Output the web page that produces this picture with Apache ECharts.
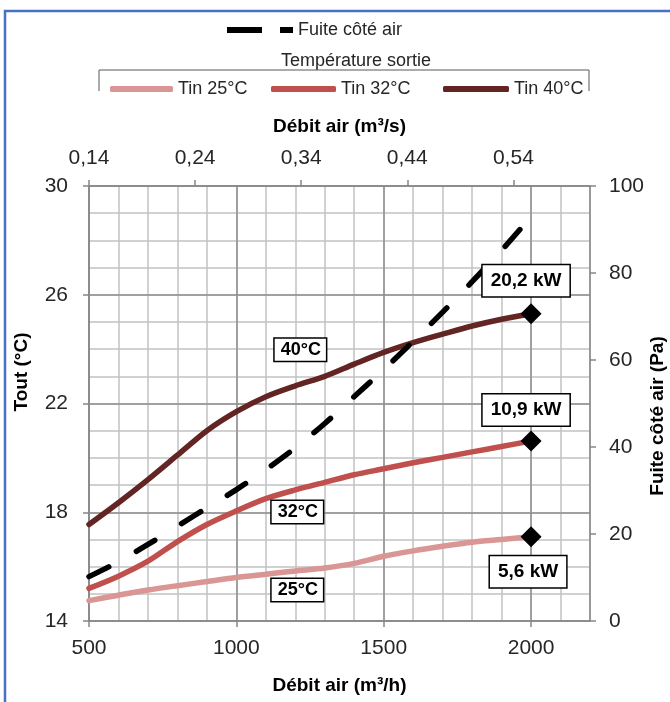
<!DOCTYPE html>
<html>
<head>
<meta charset="utf-8">
<script src="https://cdn.jsdelivr.net/npm/echarts@6/dist/echarts.min.js"></script>
<style>
html,body{margin:0;padding:0;background:#fff;overflow:hidden;}
#chart{width:670px;height:702px;}
</style>
</head>
<body>
<div id="chart"></div>
<script>
// ---- data ----
const flowRate = [500, 600, 700, 800, 900, 1000, 1100, 1200, 1300, 1400, 1500, 1600, 1700, 1800, 1900, 2000];
const tout25 = [14.75, 14.95, 15.14, 15.3, 15.45, 15.6, 15.72, 15.84, 15.95, 16.12, 16.38, 16.58, 16.75, 16.9, 17.0, 17.1];
const tout32 = [15.2, 15.65, 16.2, 16.92, 17.55, 18.05, 18.5, 18.82, 19.1, 19.38, 19.6, 19.82, 20.02, 20.22, 20.42, 20.62];
const tout40 = [17.55, 18.35, 19.2, 20.1, 21.0, 21.7, 22.25, 22.65, 23.0, 23.45, 23.88, 24.24, 24.55, 24.85, 25.1, 25.3];
const fuiteFlow = [500, 600, 700, 800, 900, 1000, 1100, 1200, 1300, 1400, 1500, 1600, 1700, 1800, 1900, 1970];
const fuitePa = [10.2, 13.6, 17.6, 21.8, 26.0, 30.2, 34.8, 39.8, 45.4, 51.6, 57.8, 64.3, 71.0, 78.0, 85.2, 90.6];
const seriesNames = ['Tin 25°C', 'Tin 32°C', 'Tin 40°C'];
const curveLabels = ['25°C', '32°C', '40°C'];
const powerLabels = ['5,6 kW', '10,9 kW', '20,2 kW'];
const fuiteName = 'Fuite côté air';
const legendTitle = 'Température sortie';
const bottomTicks = [500, 1000, 1500, 2000];
const topTicks = [0.14, 0.24, 0.34, 0.44, 0.54];
const leftTicks = [14, 18, 22, 26, 30];
const rightTicks = [0, 20, 40, 60, 80, 100];

// ---- styles ----
const colors = ['#d99694', '#c0504d', '#632523'];
const FONT = '"Liberation Sans", Arial, sans-serif';
const curveLabelOffsets = [[2, 19], [2, 22], [5, -36]];
const powerLabelOffsets = [[-3, 35], [-5, -31], [-5, -33]];
const allT = [tout25, tout32, tout40];
const labelIdx = 7;

const boxLabel = (size, pad) => ({
  show: true, color: '#000', fontFamily: FONT, fontWeight: 'bold', fontSize: size, lineHeight: size,
  backgroundColor: '#fff', borderColor: '#000', borderWidth: 1.5,
  padding: pad
});

const lineSeries = allT.map((arr, i) => ({
  name: seriesNames[i], type: 'line', xAxisIndex: 0, yAxisIndex: 0,
  data: flowRate.map((x, k) => [x, arr[k]]),
  smooth: 0.3, showSymbol: false, symbol: 'none',
  lineStyle: { color: colors[i], width: 5.5, cap: 'round' },
  itemStyle: { color: colors[i] },
  z: 3 + i,
  markPoint: {
    symbol: 'circle', symbolSize: 1, itemStyle: { color: 'rgba(0,0,0,0)' },
    silent: true,
    data: [{
      coord: [flowRate[labelIdx], arr[labelIdx]],
      value: curveLabels[i],
      label: Object.assign(boxLabel(18, [3, 5, 1, 6]), { position: 'inside', offset: curveLabelOffsets[i], formatter: curveLabels[i] })
    }]
  }
}));

const fuiteSeries = {
  name: fuiteName, type: 'line', xAxisIndex: 0, yAxisIndex: 1,
  data: fuiteFlow.map((x, k) => [x, fuitePa[k]]),
  smooth: 0.3, showSymbol: false, symbol: 'none',
  lineStyle: { color: '#000', width: 5.5, type: [22, 31.5], cap: 'round' },
  itemStyle: { color: '#000' },
  z: 6
};

const endSeries = {
  name: 'end', type: 'scatter', xAxisIndex: 0, yAxisIndex: 0,
  symbol: 'diamond', symbolSize: 21,
  itemStyle: { color: '#000', opacity: 1 },
  z: 10,
  data: allT.map((arr, i) => ({
    value: [flowRate[flowRate.length - 1], arr[arr.length - 1]],
    label: Object.assign(boxLabel(19, [7, 8, 5, 8]), { position: 'inside', offset: powerLabelOffsets[i], formatter: powerLabels[i] })
  }))
};

const axisLabelStyle = { color: '#262626', fontFamily: FONT, fontSize: 21 };
const axisLine = { show: true, lineStyle: { color: '#868686', width: 1.5 } };
const axisNameStyle = { color: '#000', fontFamily: FONT, fontWeight: 'bold', fontSize: 19 };
const tickStyle = { color: '#868686', width: 1.5 };
const majorGrid = { show: true, lineStyle: { color: '#8f8f8f', width: 1.5 } };
const minorGrid = { show: true, lineStyle: { color: '#c2c2c2', width: 1.5 } };
const hidden = { show: false };
const legendText = { fontFamily: FONT, fontSize: 18, color: '#262626' };

const option = {
  animation: false,
  backgroundColor: '#fff',
  grid: { left: 89, right: 80, top: 186, bottom: 81, containLabel: false, outerBoundsMode: 'none' },
  legend: [
    { data: [fuiteName], left: 227, top: 21, padding: 0, itemWidth: 66, itemHeight: 6, itemGap: 4,
      icon: 'path://M0,0H35V6H0Z M53,0H66V6H53Z', textStyle: legendText, selectedMode: false },
    { data: [seriesNames[0]], left: 110, top: 80, padding: 0, itemWidth: 63, itemHeight: 6, icon: 'roundRect',
      textStyle: legendText, selectedMode: false },
    { data: [seriesNames[1]], left: 271, top: 80, padding: 0, itemWidth: 65, itemHeight: 6, icon: 'roundRect',
      textStyle: legendText, selectedMode: false },
    { data: [seriesNames[2]], left: 443, top: 80, padding: 0, itemWidth: 66, itemHeight: 6, icon: 'roundRect',
      textStyle: legendText, selectedMode: false }
  ],
  graphic: [
    { type: 'rect', shape: { x: 5, y: 11, width: 700, height: 720 }, style: { fill: 'none', stroke: '#4472c4', lineWidth: 2.5 }, z: 100 },
    { type: 'text', x: 356, y: 61, style: { text: legendTitle, font: '18px ' + FONT, fill: '#262626', align: 'center', verticalAlign: 'middle' } },
    { type: 'polyline', shape: { points: [[99, 91], [99, 70], [589, 70], [589, 91]] }, style: { stroke: '#595959', lineWidth: 1, fill: 'none' } },
    { type: 'text', x: 22, y: 372, rotation: Math.PI / 2, style: { text: 'Tout (°C)', font: 'bold 19px ' + FONT, fill: '#000', align: 'center', verticalAlign: 'middle' } },
    { type: 'text', x: 658, y: 416, rotation: Math.PI / 2, style: { text: 'Fuite côté air (Pa)', font: 'bold 19px ' + FONT, fill: '#000', align: 'center', verticalAlign: 'middle' } }
  ],
  xAxis: [
    { type: 'value', position: 'bottom', min: 500, max: 2200, interval: 100, z: 2,
      name: 'Débit air (m³/h)', nameLocation: 'middle', nameGap: 55, nameTextStyle: axisNameStyle,
      axisLine: axisLine,
      axisTick: { show: true, length: 6, lineStyle: tickStyle, customValues: bottomTicks },
      axisLabel: Object.assign({ margin: 17, customValues: bottomTicks, formatter: v => String(v) }, axisLabelStyle),
      splitLine: majorGrid
    },
    { type: 'value', position: 'top', min: topTicks[0], max: topTicks[0] + 1700 / 3600, z: 2,
      name: 'Débit air (m³/s)', nameLocation: 'middle', nameGap: 50, nameTextStyle: axisNameStyle,
      axisLine: axisLine,
      axisTick: { show: true, length: 6, lineStyle: tickStyle, customValues: topTicks },
      axisLabel: Object.assign({ margin: 17, customValues: topTicks, formatter: v => v.toFixed(2).replace('.', ',') }, axisLabelStyle),
      splitLine: hidden
    },
    { type: 'value', position: 'bottom', min: 500, max: 2200, interval: 100, z: 1,
      axisLine: hidden, axisTick: hidden, axisLabel: hidden, splitLine: minorGrid }
  ],
  yAxis: [
    { type: 'value', position: 'left', min: 14, max: 30, interval: 1, z: 2,
      axisLine: axisLine,
      axisTick: { show: true, length: 6, lineStyle: tickStyle, customValues: leftTicks },
      axisLabel: Object.assign({ margin: 21, customValues: leftTicks }, axisLabelStyle),
      splitLine: majorGrid
    },
    { type: 'value', position: 'right', min: 0, max: 100, interval: 20, z: 2,
      axisLine: axisLine,
      axisTick: { show: true, length: 6, lineStyle: tickStyle },
      axisLabel: Object.assign({ margin: 19, customValues: rightTicks }, axisLabelStyle),
      splitLine: hidden
    },
    { type: 'value', position: 'left', min: 14, max: 30, interval: 1, z: 1,
      axisLine: hidden, axisTick: hidden, axisLabel: hidden, splitLine: minorGrid }
  ],
  series: lineSeries.concat([fuiteSeries, endSeries])
};

const chart = echarts.init(document.getElementById('chart'), null, { renderer: 'canvas' });
chart.setOption(option);
</script>
</body>
</html>
